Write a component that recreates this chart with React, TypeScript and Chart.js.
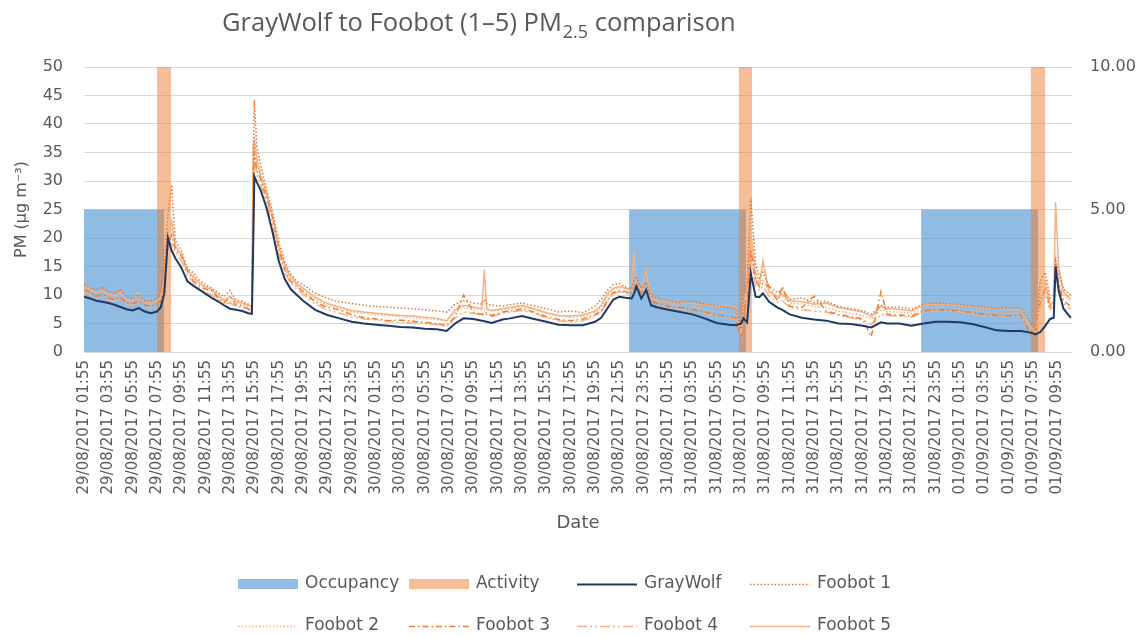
import React, { useEffect, useRef } from 'react';
import { Chart, registerables } from 'chart.js';

Chart.register(...registerables);

// Time in hours since 29/08/2017 01:55
const hours = [
  0, 0.5, 1, 1.5, 2, 2.5, 3, 3.5, 4, 4.5, 5, 5.5, 6, 6.3, 6.6, 6.9, 7.2, 7.5, 8, 8.5,
  9, 9.5, 10, 10.5, 11, 11.5, 12, 12.5, 13, 13.5, 13.8, 13.9, 14.0, 14.2, 14.5, 15, 15.5, 16, 16.5, 17,
  17.5, 18, 19, 20, 21, 22, 23, 24, 25, 26, 27, 28, 29, 29.8, 30.5, 31.2, 32, 32.7, 32.9, 33.1,
  33.5, 34.4, 35, 36, 37, 38, 39, 40, 41, 42, 42.5, 43, 43.5, 44, 44.5, 45, 45.2, 45.4, 45.8, 46.2,
  46.6, 47, 48, 49, 50, 51, 52, 53, 53.6, 54, 54.2, 54.5, 54.8, 55.2, 55.5, 55.8, 56.3, 57, 57.4, 58,
  59, 60, 61, 62, 63, 64, 64.7, 65.5, 66, 67, 68, 69, 70, 71, 72, 73, 74, 75, 76, 77,
  77.8, 78.2, 78.6, 79, 79.4, 79.7, 79.85, 80.1, 80.5, 81.1,
];

const grayWolf = [
  9.7, 9.4, 9.0, 8.8, 8.6, 8.3, 7.9, 7.5, 7.3, 7.7, 7.1, 6.8, 7.1, 7.8, 10.3, 20.0, 17.8, 16.5, 14.8, 12.4,
  11.6, 10.9, 10.2, 9.5, 8.9, 8.2, 7.6, 7.4, 7.2, 6.8, 6.7, 18.0, 30.8, 29.8, 28.5, 25.3, 21.0, 16.0, 12.8, 11.0,
  10.0, 9.0, 7.4, 6.5, 5.9, 5.3, 5.0, 4.8, 4.6, 4.4, 4.3, 4.1, 4.0, 3.7, 5.0, 5.9, 5.8, 5.5, 5.4, 5.3,
  5.1, 5.7, 5.9, 6.3, 5.8, 5.3, 4.8, 4.7, 4.7, 5.3, 6.0, 7.6, 9.2, 9.7, 9.5, 9.4, 10.2, 11.5, 9.4, 10.9,
  8.2, 7.9, 7.4, 7.0, 6.6, 5.9, 5.1, 4.8, 4.7, 5.0, 5.9, 5.2, 13.8, 9.7, 9.6, 10.3, 8.8, 7.8, 7.4, 6.6,
  6.0, 5.7, 5.5, 5.0, 4.9, 4.6, 4.3, 5.2, 5.0, 5.0, 4.6, 5.0, 5.3, 5.3, 5.2, 4.9, 4.4, 3.8, 3.7, 3.7,
  3.4, 3.1, 3.5, 4.6, 5.8, 6.0, 15.0, 10.8, 7.6, 6.0,
];

const foobot1 = [
  11.8, 11.2, 10.9, 11.4, 10.6, 10.2, 11.0, 9.6, 9.3, 10.1, 9.0, 8.9, 9.4, 10.5, 16.0, 24.0, 29.3, 19.5, 17.8, 14.6,
  13.9, 12.5, 11.8, 11.2, 10.4, 9.7, 10.8, 9.1, 8.9, 8.4, 8.2, 30.0, 44.2, 36.0, 33.0, 28.5, 24.5, 19.5, 15.8, 13.6,
  12.4, 11.8, 10.3, 9.4, 8.8, 8.5, 8.2, 8.0, 7.9, 7.7, 7.6, 7.4, 7.2, 7.0, 8.4, 9.0, 8.6, 8.4, 9.2, 8.5,
  8.2, 8.0, 8.3, 8.6, 8.1, 7.6, 7.0, 7.2, 6.9, 8.0, 9.2, 10.8, 11.8, 12.0, 11.4, 11.1, 12.5, 13.0, 11.2, 12.2,
  9.8, 9.5, 9.0, 8.7, 8.9, 8.4, 8.1, 7.8, 7.6, 4.0, 9.5, 12.0, 27.0, 15.5, 13.0, 14.0, 11.5, 10.4, 11.0, 9.2,
  9.5, 8.7, 8.9, 8.0, 7.6, 7.2, 6.6, 8.2, 7.8, 7.9, 7.5, 8.4, 8.6, 8.5, 8.3, 8.0, 7.9, 7.6, 7.7, 7.8,
  5.0, 4.0, 12.5, 14.0, 9.5, 10.0, 16.0, 14.0, 11.0, 10.0,
];

const foobot2 = [
  11.2, 10.8, 10.3, 10.5, 10.0, 9.7, 9.9, 9.1, 8.9, 9.4, 8.6, 8.4, 8.8, 9.5, 13.0, 22.0, 21.5, 18.8, 17.0, 14.0,
  13.0, 12.0, 11.2, 10.6, 9.9, 9.3, 9.0, 8.6, 8.3, 8.0, 7.8, 25.0, 38.0, 33.0, 31.5, 27.5, 23.0, 18.5, 14.8, 12.8,
  11.6, 10.8, 9.2, 8.2, 7.6, 7.0, 6.8, 6.5, 6.4, 6.2, 6.0, 5.9, 5.7, 5.4, 7.0, 7.8, 7.6, 7.4, 7.6, 7.5,
  7.2, 7.4, 7.6, 8.0, 7.5, 6.8, 6.3, 6.1, 6.2, 6.9, 7.8, 9.8, 10.9, 11.3, 11.0, 10.8, 11.6, 12.4, 10.8, 11.6,
  9.4, 9.0, 8.6, 8.2, 8.0, 7.5, 7.0, 6.8, 6.6, 3.2, 8.0, 10.5, 22.0, 14.0, 12.0, 12.8, 10.6, 9.6, 9.8, 8.6,
  8.4, 8.0, 7.8, 7.2, 6.8, 6.4, 5.8, 7.4, 7.1, 7.0, 6.8, 7.6, 7.8, 7.8, 7.6, 7.3, 7.1, 6.9, 6.8, 6.9,
  4.2, 3.5, 10.5, 12.0, 8.5, 9.0, 17.0, 13.0, 10.0, 9.0,
];

const foobot3 = [
  11.0, 10.4, 9.8, 10.2, 9.5, 9.2, 9.6, 8.6, 8.5, 8.9, 8.2, 8.0, 8.4, 9.0, 12.0, 19.0, 20.5, 18.0, 16.8, 14.2,
  12.5, 11.6, 11.0, 10.8, 9.5, 8.6, 9.6, 8.2, 8.0, 7.6, 7.4, 22.0, 35.0, 32.0, 30.5, 27.0, 23.5, 18.0, 14.5, 12.4,
  11.5, 10.6, 8.8, 7.8, 7.4, 6.5, 6.0, 5.8, 5.5, 5.6, 5.4, 5.2, 5.0, 4.6, 6.2, 10.0, 7.0, 6.6, 7.0, 6.8,
  6.4, 7.0, 7.2, 7.6, 7.0, 6.2, 5.7, 5.5, 5.8, 6.5, 7.2, 9.0, 10.4, 10.8, 10.6, 10.2, 11.0, 12.0, 10.4, 11.4,
  9.0, 8.6, 8.0, 7.8, 7.4, 7.0, 6.5, 6.2, 6.0, 2.4, 7.0, 9.0, 18.0, 12.5, 11.5, 12.0, 11.5, 9.0, 11.5, 8.0,
  7.8, 9.8, 7.2, 6.6, 6.2, 5.8, 2.7, 10.6, 6.6, 6.5, 6.3, 7.2, 7.4, 7.4, 7.2, 6.9, 6.6, 6.4, 6.3, 6.5,
  3.0, 4.0, 9.0, 11.0, 8.0, 8.5, 15.5, 12.0, 9.0, 8.0,
];

const foobot4 = [
  10.6, 10.0, 9.6, 9.8, 9.2, 8.8, 9.2, 8.4, 8.2, 8.6, 7.9, 7.7, 8.0, 8.8, 11.5, 18.0, 19.0, 17.6, 16.0, 13.5,
  12.2, 11.2, 10.5, 10.0, 9.2, 8.4, 8.6, 8.0, 7.8, 7.4, 7.2, 22.0, 36.0, 31.0, 29.5, 26.5, 22.0, 17.0, 14.0, 12.0,
  11.0, 10.2, 8.4, 7.4, 6.8, 6.2, 5.8, 5.6, 5.4, 5.2, 5.1, 5.0, 4.8, 4.4, 6.0, 7.0, 6.8, 6.4, 6.8, 6.6,
  6.2, 6.8, 7.0, 7.3, 6.8, 6.0, 5.5, 5.3, 5.5, 6.2, 7.0, 8.8, 10.2, 10.6, 10.3, 10.0, 11.0, 11.8, 10.0, 11.0,
  8.8, 8.4, 7.8, 7.5, 7.2, 6.8, 6.2, 6.0, 5.8, 3.5, 7.5, 8.0, 16.0, 11.5, 10.8, 11.5, 9.8, 8.8, 9.0, 7.8,
  7.4, 7.2, 7.0, 6.4, 6.0, 5.6, 4.8, 6.6, 6.4, 6.3, 6.1, 7.0, 7.2, 7.2, 7.0, 6.7, 6.4, 6.2, 6.1, 6.3,
  3.6, 3.8, 8.5, 10.0, 7.5, 8.0, 15.0, 11.5, 8.5, 7.5,
];

const foobot5 = [
  11.5, 11.0, 10.5, 10.8, 10.2, 9.8, 10.5, 9.2, 9.0, 10.4, 8.8, 8.6, 9.0, 9.6, 12.5, 20.0, 23.0, 18.5, 17.2, 14.4,
  13.2, 12.0, 11.4, 11.0, 10.0, 9.0, 9.8, 8.8, 8.6, 8.2, 8.0, 36.5, 37.0, 34.0, 31.0, 28.0, 23.8, 18.6, 15.2, 13.2,
  12.0, 11.2, 9.6, 8.5, 7.9, 7.3, 7.0, 6.8, 6.6, 6.4, 6.3, 6.1, 5.9, 5.5, 7.4, 8.2, 7.9, 7.6, 14.4, 7.6,
  7.3, 7.6, 7.8, 8.2, 7.6, 6.9, 6.4, 6.3, 6.5, 7.2, 8.2, 10.2, 11.2, 11.5, 11.2, 10.9, 17.6, 12.0, 10.9, 14.4,
  9.6, 9.2, 8.9, 8.7, 8.5, 8.3, 8.0, 8.2, 7.8, 3.0, 9.0, 11.0, 21.0, 13.0, 11.5, 16.0, 10.5, 9.8, 10.2, 9.0,
  8.8, 8.4, 8.6, 7.8, 7.4, 7.0, 6.2, 8.0, 7.6, 7.5, 7.2, 8.2, 8.4, 8.3, 8.2, 7.9, 7.7, 7.5, 7.4, 7.5,
  4.5, 3.8, 11.0, 12.5, 8.0, 9.0, 26.3, 15.0, 10.5, 9.2,
];

// Occupancy / activity periods (hours since start), drawn on the right axis
const occupancyStart = [0, 44.8, 68.8];
const occupancyEnd = [6.6, 54.4, 78.4];
const activityStart = [6.0, 53.8, 77.8];
const activityEnd = [7.15, 54.9, 79.0];
const occupancyLevel = 5;
const activityLevel = 10;

const tickLabels = [
  '29/08/2017 01:55', '29/08/2017 03:55', '29/08/2017 05:55', '29/08/2017 07:55', '29/08/2017 09:55',
  '29/08/2017 11:55', '29/08/2017 13:55', '29/08/2017 15:55', '29/08/2017 17:55', '29/08/2017 19:55',
  '29/08/2017 21:55', '29/08/2017 23:55',
  '30/08/2017 01:55', '30/08/2017 03:55', '30/08/2017 05:55', '30/08/2017 07:55', '30/08/2017 09:55',
  '30/08/2017 11:55', '30/08/2017 13:55', '30/08/2017 15:55', '30/08/2017 17:55', '30/08/2017 19:55',
  '30/08/2017 21:55', '30/08/2017 23:55',
  '31/08/2017 01:55', '31/08/2017 03:55', '31/08/2017 05:55', '31/08/2017 07:55', '31/08/2017 09:55',
  '31/08/2017 11:55', '31/08/2017 13:55', '31/08/2017 15:55', '31/08/2017 17:55', '31/08/2017 19:55',
  '31/08/2017 21:55', '31/08/2017 23:55',
  '01/09/2017 01:55', '01/09/2017 03:55', '01/09/2017 05:55', '01/09/2017 07:55', '01/09/2017 09:55',
];

const titleMain = 'GrayWolf to Foobot (1–5) PM';
const titleSub = '2.5';
const titleEnd = ' comparison';

const TEXT = '#595959';

function series(values: number[]) {
  return hours.map((h, i) => ({ x: h, y: values[i] }));
}

function blocks(starts: number[], ends: number[], level: number) {
  const pts: { x: number; y: number | null }[] = [];
  starts.forEach((s, i) => {
    if (i > 0) pts.push({ x: (ends[i - 1] + s) / 2, y: null });
    pts.push({ x: s, y: level });
    pts.push({ x: ends[i], y: level });
  });
  return pts;
}

const titlePlugin = {
  id: 'subTitle',
  afterDraw(chart: any) {
    const ctx = chart.ctx;
    ctx.save();
    ctx.fillStyle = TEXT;
    ctx.textBaseline = 'alphabetic';
    ctx.textAlign = 'left';
    let x = 222;
    const y = 31;
    ctx.font = '25.5px "Open Sans"';
    ctx.fillText(titleMain, x, y);
    x += ctx.measureText(titleMain).width;
    ctx.font = '18px "Open Sans"';
    ctx.fillText(titleSub, x + 1, y + 7);
    x += ctx.measureText(titleSub).width + 1;
    ctx.font = '25.5px "Open Sans"';
    ctx.fillText(titleEnd, x, y);
    ctx.restore();
  },
};

const LEGEND_COLS = [238, 409, 577, 750];
const LEGEND_ROWS = [584, 626];

const legendPlugin = {
  id: 'gridLegend',
  afterDraw(chart: any) {
    const ctx = chart.ctx;
    ctx.save();
    chart.data.datasets.forEach((ds: any, i: number) => {
      const x = LEGEND_COLS[i % 4];
      const y = LEGEND_ROWS[Math.floor(i / 4)];
      if (ds.fill) {
        ctx.fillStyle = ds.backgroundColor;
        ctx.fillRect(x, y - 5, 60, 10);
      } else {
        ctx.strokeStyle = ds.borderColor;
        ctx.lineWidth = ds.borderWidth;
        ctx.setLineDash(ds.borderDash || []);
        ctx.beginPath();
        ctx.moveTo(x, y + 0.5);
        ctx.lineTo(x + 60, y + 0.5);
        ctx.stroke();
        ctx.setLineDash([]);
      }
      ctx.fillStyle = TEXT;
      ctx.font = '17px "DejaVu Sans"';
      ctx.textBaseline = 'middle';
      ctx.textAlign = 'left';
      ctx.fillText(ds.label, x + 67, y);
    });
    ctx.restore();
  },
};

export default function App() {
  const canvasRef = useRef<HTMLCanvasElement | null>(null);

  useEffect(() => {
    if (!canvasRef.current) return;
    const lineBase = { type: 'line' as const, pointRadius: 0, tension: 0, fill: false, yAxisID: 'y' };
    const chart = new Chart(canvasRef.current, {
      type: 'line',
      data: {
        datasets: [
          {
            type: 'line', label: 'Occupancy', data: blocks(occupancyStart, occupancyEnd, occupancyLevel) as any,
            yAxisID: 'y1', fill: 'origin', backgroundColor: 'rgba(91,155,213,0.68)',
            borderColor: 'rgba(0,0,0,0)', borderWidth: 0, pointRadius: 0, spanGaps: false, order: 10,
          },
          {
            type: 'line', label: 'Activity', data: blocks(activityStart, activityEnd, activityLevel) as any,
            yAxisID: 'y1', fill: 'origin', backgroundColor: 'rgba(237,125,49,0.5)',
            borderColor: 'rgba(0,0,0,0)', borderWidth: 0, pointRadius: 0, spanGaps: false, order: 9,
          },
          { ...lineBase, label: 'GrayWolf', data: series(grayWolf), borderColor: '#1F3864', borderWidth: 2, order: 0 },
          { ...lineBase, label: 'Foobot 1', data: series(foobot1), borderColor: '#E07A35', borderWidth: 1.5, borderDash: [1.5, 2], order: 1 },
          { ...lineBase, label: 'Foobot 2', data: series(foobot2), borderColor: '#F4B183', borderWidth: 1.5, borderDash: [1.5, 2], order: 2 },
          { ...lineBase, label: 'Foobot 3', data: series(foobot3), borderColor: '#ED7D31', borderWidth: 1.5, borderDash: [6, 3, 1.5, 3], order: 3 },
          { ...lineBase, label: 'Foobot 4', data: series(foobot4), borderColor: '#F4B183', borderWidth: 1.5, borderDash: [10, 3, 2, 3, 2, 3], order: 4 },
          { ...lineBase, label: 'Foobot 5', data: series(foobot5), borderColor: '#F4B183', borderWidth: 1.5, order: 5 },
        ] as any,
      },
      options: {
        animation: false,
        responsive: true,
        maintainAspectRatio: false,
        devicePixelRatio: 1,
        layout: { padding: { top: 67, bottom: 101, left: 0, right: 0 } },
        plugins: {
          legend: { display: false },
          tooltip: { enabled: false },
          title: { display: false },
        },
        scales: {
          x: {
            type: 'linear',
            min: 0,
            max: 81.2,
            offset: false,
            grid: { display: false, drawTicks: false },
            border: { display: false },
            ticks: {
              stepSize: 2,
              autoSkip: false,
              includeBounds: false,
              maxRotation: 90,
              minRotation: 90,
              padding: 8,
              color: TEXT,
              font: { family: 'DejaVu Sans', size: 15 },
              callback: (v: any) => tickLabels[Math.round(Number(v) / 2)] ?? '',
            },
            title: {
              display: true,
              text: 'Date',
              color: TEXT,
              font: { family: 'DejaVu Sans', size: 18 },
              padding: { top: 0, bottom: 2 },
            },
            afterFit: (scale: any) => { scale.height = 184; },
          },
          y: {
            position: 'left',
            min: 0,
            max: 50,
            grid: { color: '#D9D9D9', lineWidth: 1, drawTicks: false },
            border: { display: false },
            ticks: {
              stepSize: 5,
              padding: 21,
              color: TEXT,
              font: { family: 'DejaVu Sans', size: 16 },
            },
            title: {
              display: true,
              text: 'PM (μg m⁻³)',
              color: TEXT,
              font: { family: 'DejaVu Sans', size: 16 },
              padding: { top: 12, bottom: 0 },
            },
            afterFit: (scale: any) => { scale.width = 84; },
          },
          y1: {
            position: 'right',
            min: 0,
            max: 10,
            grid: { drawOnChartArea: false, drawTicks: false },
            border: { display: false },
            ticks: {
              stepSize: 5,
              padding: 18,
              color: TEXT,
              font: { family: 'DejaVu Sans', size: 16 },
              callback: (v: any) => Number(v).toFixed(2),
            },
            afterFit: (scale: any) => { scale.width = 73; },
          },
        },
      } as any,
      plugins: [titlePlugin, legendPlugin],
    });
    return () => chart.destroy();
  }, []);

  return (
    <div style={{ position: 'absolute', left: 0, top: 0, width: 1145, height: 637, background: '#fff' }}>
      <canvas ref={canvasRef} />
    </div>
  );
}
